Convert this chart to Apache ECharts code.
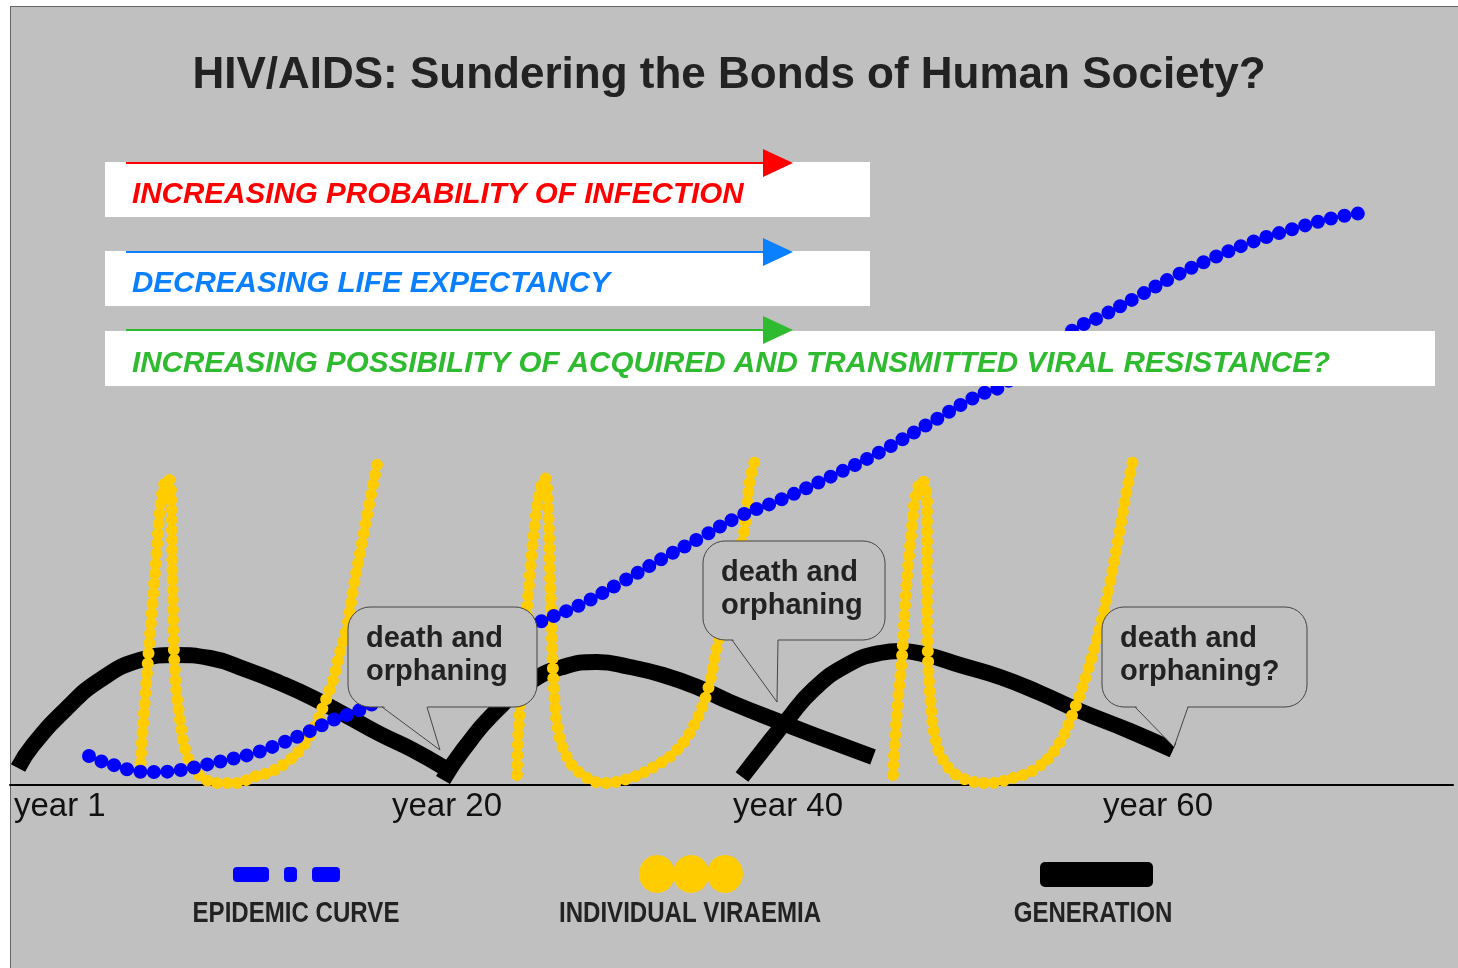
<!DOCTYPE html>
<html>
<head>
<meta charset="utf-8">
<title>HIV/AIDS: Sundering the Bonds of Human Society?</title>
<script src="https://cdn.jsdelivr.net/npm/echarts@6/dist/echarts.min.js"></script>
<style>
  html, body { margin: 0; padding: 0; background: #fff; }
  #frame { position: absolute; left: 10px; top: 6px; width: 1460px; height: 970px;
           background: #c0c0c0; border-left: 1.5px solid #666; border-top: 1.5px solid #666; }
  #main { position: absolute; left: 0; top: 0; width: 1458px; height: 968px; }
</style>
</head>
<body>
<div id="frame"></div>
<div id="main"></div>
<script type="text/javascript">
// horizontal position along the time line, height above the baseline
var yearLabels = ['year 1', 'year 20', 'year 40', 'year 60'];
var yearTicks = [4, 382, 723, 1093];

var epidemicCurve = [[79,29],[93,23],[107,19],[120,15],[137,13],[150,13],[163,14],[177,16],[190,19],
  [217,25],[245,32],[272,42],[298,53],[323,65],[350,75],[530,163],[570,180],[610,202],[650,225],
  [690,247],[730,269],[770,285],[820,308],[870,333],[920,362],[969,390],[990,398],[1063,455],
  [1090,468],[1127,488],[1163,508],[1203,527],[1242,543],[1283,556],[1323,567],[1352,572]];

var viraemia1 = [[130,12],[132,45],[135,85],[138,125],[142,175],[146,225],[150,275],[154,300],[158,307],
  [161,295],[162,245],[163,178],[165,112],[170,65],[177,30],[190,9],[210,2],[230,2],[240,7],[260,13],
  [277,23],[290,35],[303,55],[313,78],[323,105],[330,133],[337,158],[343,195],[352,242],[360,285],[368,325]];
var viraemia2 = [[507,10],[508,45],[510,78],[515,145],[520,212],[525,262],[530,295],[535,307],[538,278],
  [540,212],[542,145],[544,95],[548,55],[557,28],[570,12],[593,2],[620,7],[647,20],[667,35],[683,58],
  [697,92],[707,138],[733,248],[737,278],[740,305],[745,325]];
var viraemia3 = [[883,10],[885,45],[888,85],[892,128],[895,178],[898,218],[902,258],[905,285],[912,305],
  [917,285],[917,212],[918,128],[921,78],[925,48],[933,25],[950,8],[977,2],[1003,7],[1027,17],[1047,38],
  [1063,72],[1077,112],[1090,158],[1100,202],[1108,245],[1115,285],[1123,325]];

var generation1 = [[8,17],[23,40],[57,77],[90,105],[130,125],[165,130],[200,127],[237,115],[270,102],
  [303,87],[337,69],[370,51],[403,35],[433,18]];
var generation2 = [[433,5],[453,35],[487,75],[520,103],[553,118],[587,123],[620,118],[653,110],[687,98],
  [720,83],[770,63],[820,44],[863,28]];
var generation3 = [[732,8],[753,35],[777,65],[803,95],[837,120],[870,132],[890,134],[917,130],[950,120],
  [990,108],[1030,92],[1070,74],[1120,54],[1163,35]];

var trendTexts = ['INCREASING PROBABILITY OF INFECTION', 'DECREASING LIFE EXPECTANCY',
  'INCREASING POSSIBILITY OF ACQUIRED AND TRANSMITTED VIRAL RESISTANCE?'];
var calloutTexts = ['death and\norphaning', 'death and\norphaning', 'death and\norphaning?'];
var legendNames = ['EPIDEMIC CURVE', 'INDIVIDUAL VIRAEMIA', 'GENERATION'];

var FONT = '"Liberation Sans", Arial, sans-serif';
var myChart = echarts.init(document.getElementById('main'));

function dotted(name, data, color, size, gap, z) {
  return {
    name: name, type: 'line', data: data, smooth: 0.4, symbol: 'none', z: z, silent: true,
    lineStyle: { color: color, width: size, type: [0, gap], cap: 'round', join: 'round' }
  };
}
function thick(data) {
  return {
    name: 'GENERATION', type: 'line', data: data, smooth: 0.5, symbol: 'none', z: 2, silent: true,
    lineStyle: { color: '#000', width: 16, cap: 'butt', join: 'round' }
  };
}

// white bands with arrows
var graphics = [];
var bands = [
  { y: 162, w: 765, arrowY: 163, color: '#ff0000' },
  { y: 251, w: 765, arrowY: 252, color: '#0a80ff' },
  { y: 331, w: 1330, arrowY: 330, color: '#2fbb2f' }
];
bands.forEach(function (b, i) {
  graphics.push({ type: 'rect', z: 100, shape: { x: 105, y: b.y, width: b.w, height: 55 }, style: { fill: '#fff' } });
  graphics.push({ type: 'line', z: 101, shape: { x1: 126, y1: b.arrowY, x2: 766, y2: b.arrowY }, style: { stroke: b.color, lineWidth: 2 } });
  graphics.push({ type: 'polygon', z: 101, shape: { points: [[763, b.arrowY - 14], [793, b.arrowY], [763, b.arrowY + 14]] }, style: { fill: b.color } });
  graphics.push({ type: 'text', z: 102, style: { text: trendTexts[i], x: 132, y: b.y + 33, fill: b.color,
    font: 'italic bold 29.6px ' + FONT, textAlign: 'left', textVerticalAlign: 'middle' } });
});

// speech bubbles
var bubbles = [
  { x: 348, y: 607, w: 189, h: 100, tl: 382, tr: 427, tip: [440, 750] },
  { x: 703, y: 541, w: 182, h: 99, tl: 732, tr: 778, tip: [777, 702] },
  { x: 1102, y: 607, w: 205, h: 100, tl: 1135, tr: 1188, tip: [1174, 747] }
];
bubbles.forEach(function (b, i) {
  var bottom = b.y + b.h;
  graphics.push({ type: 'rect', z: 110, shape: { x: b.x, y: b.y, width: b.w, height: b.h, r: 22 },
    style: { fill: '#c0c0c0', stroke: '#444', lineWidth: 1 } });
  graphics.push({ type: 'polygon', z: 111, shape: { points: [[b.tl, bottom - 2], b.tip, [b.tr, bottom - 2]] },
    style: { fill: '#c0c0c0' } });
  graphics.push({ type: 'polyline', z: 112, shape: { points: [[b.tl, bottom], b.tip, [b.tr, bottom]] },
    style: { stroke: '#444', lineWidth: 1, fill: null } });
  graphics.push({ type: 'text', z: 113, style: { text: calloutTexts[i], x: b.x + 18, y: b.y + 15, fill: '#222',
    font: 'bold 29px ' + FONT, lineHeight: 33, textAlign: 'left', textVerticalAlign: 'top' } });
});

// legend
[[233, 36], [284, 13], [312, 28]].forEach(function (r) {
  graphics.push({ type: 'rect', shape: { x: r[0], y: 867, width: r[1], height: 15, r: 4 }, style: { fill: '#0000ff' } });
});
[657, 691, 725].forEach(function (cx) {
  graphics.push({ type: 'ellipse', shape: { cx: cx, cy: 874, rx: 18, ry: 19 }, style: { fill: '#ffcc00' } });
});
graphics.push({ type: 'rect', shape: { x: 1040, y: 862, width: 113, height: 25, r: 5 }, style: { fill: '#000' } });
[296, 690, 1093].forEach(function (cx, i) {
  graphics.push({ type: 'text', x: cx, y: 914, scaleX: 0.83, style: { text: legendNames[i], x: 0, y: 0, fill: '#222',
    font: 'bold 29px ' + FONT, textAlign: 'center', textVerticalAlign: 'middle' } });
});

var option = {
  animation: false,
  backgroundColor: 'transparent',
  title: {
    text: 'HIV/AIDS: Sundering the Bonds of Human Society?',
    left: 'center', top: 49,
    textStyle: { fontFamily: FONT, fontSize: 44, fontWeight: 'bold', color: '#222' }
  },
  grid: { left: 10, right: 5, top: 85, bottom: 183 },
  xAxis: {
    type: 'value', min: 0, max: 1443,
    axisLine: { lineStyle: { color: '#000', width: 2 } },
    axisTick: { show: false },
    splitLine: { show: false },
    axisLabel: {
      customValues: yearTicks,
      formatter: function (v) { return yearLabels[yearTicks.indexOf(v)]; },
      align: 'left', margin: 5, color: '#111', fontSize: 33, fontFamily: FONT
    }
  },
  yAxis: { type: 'value', min: 0, max: 700, show: false },
  graphic: graphics,
  series: [
    thick(generation1), thick(generation2), thick(generation3),
    dotted('INDIVIDUAL VIRAEMIA', viraemia1, '#ffcc00', 12, 10, 3),
    dotted('INDIVIDUAL VIRAEMIA', viraemia2, '#ffcc00', 12, 10, 3),
    dotted('INDIVIDUAL VIRAEMIA', viraemia3, '#ffcc00', 12, 10, 3),
    dotted('EPIDEMIC CURVE', epidemicCurve, '#0000ff', 14, 13.5, 4)
  ]
};
myChart.setOption(option);
</script>
</body>
</html>
